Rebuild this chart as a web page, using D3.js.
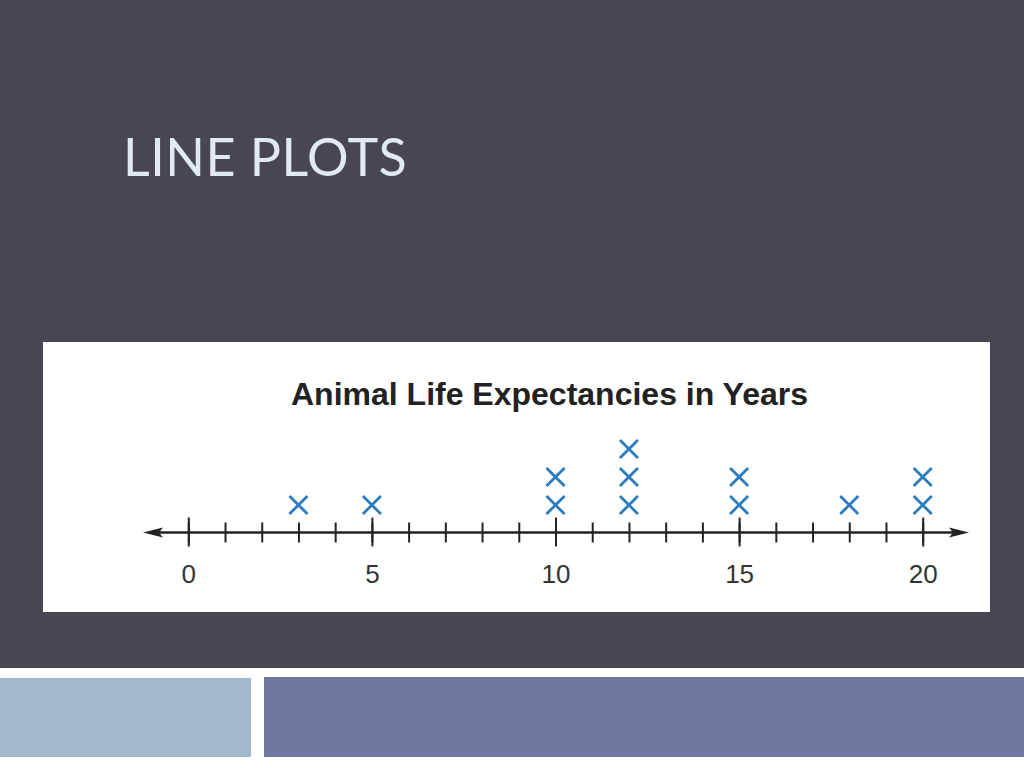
<!DOCTYPE html>
<html>
<head>
<meta charset="utf-8">
<script src="https://cdn.jsdelivr.net/npm/d3@7"></script>
<style>
  html, body { margin: 0; padding: 0; background: #fff; }
  svg { display: block; }
</style>
</head>
<body>
<script>
const w = 1024;
const h = 768;

const slideTitle = "LINE PLOTS";
const chartTitle = "Animal Life Expectancies in Years";
// one entry per X mark on the number line
const lifeYears = [3, 5, 10, 10, 12, 12, 12, 15, 15, 18, 20, 20];
const axisMin = 0;
const axisMax = 20;
const labelTicks = [0, 5, 10, 15, 20];

const svg = d3.select("body")
    .append("svg")
    .attr("width", w)
    .attr("height", h);

// slide background
svg.append("rect").attr("width", w).attr("height", 668).attr("fill", "#474651");
svg.append("rect").attr("x", 0).attr("y", 678).attr("width", 251).attr("height", 79).attr("fill", "#a2b8cd");
svg.append("rect").attr("x", 264).attr("y", 677).attr("width", 760).attr("height", 80).attr("fill", "#6f789e");

svg.append("text")
    .attr("x", 123)
    .attr("y", 176)
    .attr("fill", "#e0eaf0")
    .style("font-family", "Lato, 'Open Sans', sans-serif")
    .style("font-weight", 400)
    .style("font-size", "52px")
    .style("letter-spacing", "0.5px")
    .text(slideTitle);

// white chart panel
svg.append("rect").attr("x", 43).attr("y", 342).attr("width", 947).attr("height", 270).attr("fill", "#fff");

svg.append("text")
    .attr("x", 291)
    .attr("y", 405)
    .attr("fill", "#222")
    .style("font-family", "'Liberation Sans', Arial, sans-serif")
    .style("font-weight", "bold")
    .style("font-size", "32px")
    .text(chartTitle);

const lineY = 532.5;
const xScale = d3.scaleLinear()
    .domain([axisMin, axisMax])
    .range([188.3, 922.7]);

// number line with arrows
const ink = "#222";
svg.append("line")
    .attr("x1", 150).attr("x2", 960)
    .attr("y1", lineY).attr("y2", lineY)
    .attr("stroke", ink).attr("stroke-width", 2.5);
svg.append("path")
    .attr("d", `M143,${lineY} L163,${lineY - 5} L159,${lineY} L163,${lineY + 5} Z`)
    .attr("fill", ink);
svg.append("path")
    .attr("d", `M969,${lineY} L949,${lineY - 5} L953,${lineY} L949,${lineY + 5} Z`)
    .attr("fill", ink);

// minor ticks every year
const minorAxis = d3.axisBottom(xScale)
    .tickValues(d3.range(axisMin, axisMax + 1))
    .tickFormat("")
    .tickSizeOuter(0);
const gMinor = svg.append("g")
    .attr("transform", "translate(0," + lineY + ")")
    .call(minorAxis);
gMinor.select(".domain").remove();
gMinor.selectAll(".tick line")
    .attr("y1", -10).attr("y2", 10)
    .attr("stroke", ink).attr("stroke-width", 2);

// major ticks with labels
const majorAxis = d3.axisBottom(xScale)
    .tickValues(labelTicks)
    .tickFormat(d3.format("d"))
    .tickSizeOuter(0)
    .tickPadding(0);
const gMajor = svg.append("g")
    .attr("transform", "translate(0," + lineY + ")")
    .call(majorAxis);
gMajor.select(".domain").remove();
gMajor.selectAll(".tick line")
    .attr("y1", -15).attr("y2", 14)
    .attr("stroke", ink).attr("stroke-width", 2);
gMajor.selectAll(".tick text")
    .attr("y", 50)
    .attr("dy", null)
    .attr("fill", "#333")
    .style("font-family", "'Liberation Sans', Arial, sans-serif")
    .style("font-size", "26px");

// stack X marks above each value
const counts = {};
const marks = lifeYears.map(v => {
    counts[v] = (counts[v] || 0) + 1;
    return { value: v, level: counts[v] };
});
const yScale = d3.scaleLinear().domain([1, 3]).range([505, 449]);
const xSymbol = d3.symbol().type(d3.symbolTimes).size(215);

svg.append("g")
    .selectAll("path")
    .data(marks)
    .join("path")
    .attr("transform", d => "translate(" + xScale(d.value) + "," + yScale(d.level) + ")")
    .attr("d", xSymbol)
    .attr("fill", "none")
    .attr("stroke", "#2b7cc0")
    .attr("stroke-width", 2.8);
</script>
</body>
</html>
